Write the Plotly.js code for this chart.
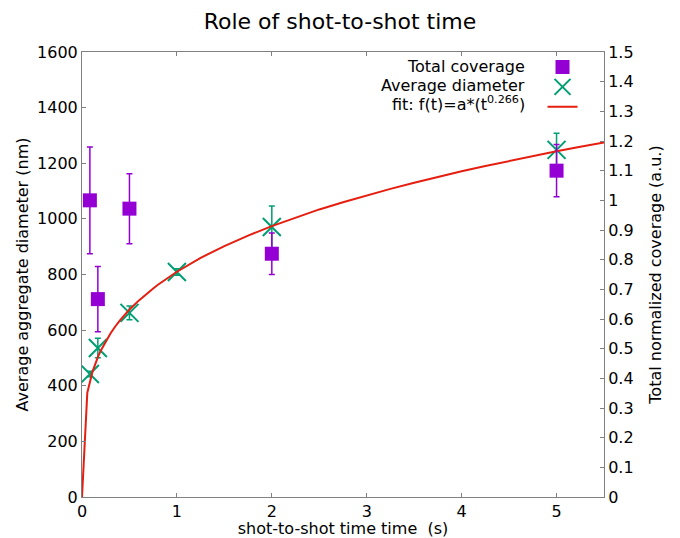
<!DOCTYPE html>
<html><head><meta charset="utf-8">
<script src="https://cdn.plot.ly/plotly-3.0.1.min.js"></script>
<style>html,body{margin:0;padding:0;background:#fff}</style>
</head><body><div id="chart" style="width:680px;height:538px"></div>
<script>
// shot-to-shot times (s)
var times = [0.083, 0.167, 0.5, 1, 2, 5];
// Average diameter (nm), left axis
var diameter = [442, 536, 662, 809, 971, 1248];
var diameterErr = [10, 35, 25, 12, 75, 60];
// Total normalized coverage (a.u.), right axis (no value at t=1)
var coverageT = [0.083, 0.167, 0.5, 2, 5];
var coverage = [1.0, 0.667, 0.972, 0.820, 1.100];
var coverageErr = [0.18, 0.11, 0.118, 0.07, 0.088];
// fit curve f(t)=a*t^0.266
var fitT = [0, 0.056, 0.111, 0.139, 0.167, 0.2, 0.25, 0.3, 0.35, 0.4, 0.5, 0.6, 0.75, 0.8, 1, 1.25, 1.5, 1.75, 2, 2.25, 2.5, 2.75, 3, 3.25, 3.5, 3.75, 4, 4.25, 4.5, 4.75, 5, 5.25, 5.5];
var fitY = [0, 375, 451, 479, 503, 528, 560, 588, 613, 635, 674, 707, 750, 763, 810, 860, 902, 940, 974, 1005, 1034, 1060, 1085, 1108, 1130, 1151, 1171, 1190, 1208, 1226, 1243, 1259, 1275];
var legendLabels = ["Total coverage", "Average diameter", "fit: f(t)=a*(t<sup>0.266</sup>)"];

var font = "DejaVu Sans, sans-serif";
var purple = "#9400D3", green = "#009E73", red = "#E51E10";

var traces = [
  {x: coverageT, y: coverage, yaxis: "y2", type: "scatter", mode: "markers", name: " ",
   marker: {symbol: "square", size: 14, color: purple},
   error_y: {type: "data", array: coverageErr, visible: true, color: purple, thickness: 1.5, width: 3}},
  {x: times, y: diameter, type: "scatter", mode: "markers", name: " ",
   marker: {symbol: "x-thin-open", size: 18, color: green, line: {width: 2, color: green}},
   error_y: {type: "data", array: diameterErr, visible: true, color: green, thickness: 1.5, width: 3}},
  {x: fitT, y: fitY, type: "scatter", mode: "lines", name: " ",
   line: {color: red, width: 2}}
];

var axCommon = {showgrid: false, zeroline: false, showline: true, linecolor: "#808080", linewidth: 1,
  ticks: "inside", ticklen: 4, tickcolor: "#808080", tickfont: {family: font, size: 16, color: "#000"}};

var layout = {
  width: 680, height: 538,
  margin: {l: 82, r: 76, t: 52, b: 41},
  paper_bgcolor: "#fff", plot_bgcolor: "#fff",
  font: {family: font, size: 16, color: "#000"},
  title: {text: "Role of shot-to-shot time", font: {family: font, size: 22, color: "#000"}, x: 0.5, xanchor: "center", y: 0.961, yanchor: "middle"},
  xaxis: Object.assign({}, axCommon, {range: [0, 5.5], dtick: 1, tick0: 0, mirror: "ticks",
    title: {text: "shot-to-shot time time  (s)", font: {family: font, size: 16}, standoff: 4}}),
  yaxis: Object.assign({}, axCommon, {range: [0, 1600], dtick: 200, tick0: 0,
    title: {text: "Average aggregate diameter (nm)", font: {family: font, size: 16}, standoff: 4}}),
  yaxis2: Object.assign({}, axCommon, {range: [0, 1.5], dtick: 0.1, tick0: 0, overlaying: "y", side: "right",
    title: {text: "Total normalized coverage (a.u.)", font: {family: font, size: 16}, standoff: 17}}),
  showlegend: true,
  legend: {x: 0.978, xanchor: "right", y: 1, yanchor: "top", bgcolor: "rgba(0,0,0,0)",
    font: {family: font, size: 13}, itemwidth: 30, tracegroupgap: 0, traceorder: "normal"},
  annotations: legendLabels.map(function (t, i) {
    return {text: t, xref: "paper", yref: "paper", x: 0.8525, xanchor: "right",
      y: 1 - (15 + i * 18) / 445, yanchor: "middle", showarrow: false,
      font: {family: font, size: 16, color: "#000"}};
  })
};

Plotly.newPlot("chart", traces, layout, {displayModeBar: false, staticPlot: true});
</script></body></html>
